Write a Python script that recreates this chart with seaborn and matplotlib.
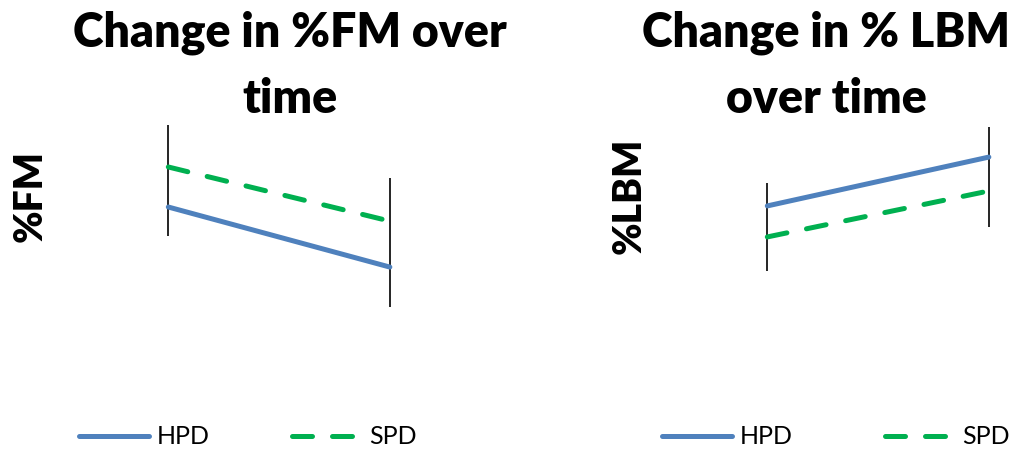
import matplotlib
matplotlib.use("Agg")
import matplotlib.pyplot as plt
import seaborn as sns
import pandas as pd

sns.set_theme(style="white")
plt.rcParams['font.family'] = ['Lato', 'DejaVu Sans']
plt.rcParams['text.color'] = 'black'
plt.rcParams['axes.labelcolor'] = 'black'

# ---- data (arbitrary units, no scale shown) ----
groups = ["HPD", "SPD"]
timepoints = [0, 1]
fm_hpd = [5.59, 2.86]
fm_spd = [7.41, 4.95]
fm_bar_low = [4.27, 1.05]
fm_bar_high = [9.32, 6.91]

lbm_hpd = [5.64, 7.86]
lbm_spd = [4.23, 6.32]
lbm_bar_low = [2.68, 4.68]
lbm_bar_high = [6.68, 9.23]

titles = ["Change in %FM over\ntime", "Change in % LBM\nover time"]
ylabels = ["%FM", "%LBM"]

colors = {"HPD": "#4F81BD", "SPD": "#00B050"}
dashes = {"HPD": "", "SPD": (4, 4)}


def make_df(hpd, spd):
    return pd.DataFrame({
        "time": timepoints * 2,
        "value": list(hpd) + list(spd),
        "group": ["HPD"] * 2 + ["SPD"] * 2,
    })


fig = plt.figure(figsize=(10.18, 4.5), dpi=100)
W, H = 1018, 450

panels = [
    dict(df=make_df(fm_hpd, fm_spd), low=fm_bar_low, high=fm_bar_high,
         left=124, title_x=290, ylab_x=49, leg_x=248, colsp=3.3),
    dict(df=make_df(lbm_hpd, lbm_spd), low=lbm_bar_low, high=lbm_bar_high,
         left=723, title_x=826, ylab_x=648, leg_x=836, colsp=3.7),
]

for i, p in enumerate(panels):
    ax = fig.add_axes([p["left"] / W, (H - 330) / H, 288 / W, 220 / H])
    ax.vlines(timepoints, p["low"], p["high"], color="black", linewidth=1.2, zorder=1)
    sns.lineplot(data=p["df"], x="time", y="value", hue="group", style="group",
                 palette=colors, dashes=dashes, linewidth=3.6, ax=ax,
                 legend=True, zorder=2)
    for ln in ax.get_lines():
        ln.set_dash_capstyle("round")
        ln.set_solid_capstyle("round")
    ax.set_xlim(-0.2, 1.1)
    ax.set_ylim(0, 10)
    ax.set_xticks([])
    ax.set_yticks([])
    ax.set_xlabel("")
    ax.set_ylabel(ylabels[i], fontsize=28, fontweight="heavy")
    ax.yaxis.set_label_coords((p["ylab_x"] - p["left"]) / 288, (330 - 196) / 220)
    sns.despine(ax=ax, left=True, bottom=True)

    fig.text(p["title_x"] / W, 1 - 66 / H, titles[i], ha="center", va="center",
             fontsize=33.5, fontweight="heavy", linespacing=1.6)

    handles, labels = ax.get_legend_handles_labels()
    for h in handles:
        h.set_dash_capstyle("round")
        h.set_solid_capstyle("round")
    ax.legend(handles, labels, loc="center", bbox_to_anchor=(p["leg_x"] / W, 1 - 437 / H),
              bbox_transform=fig.transFigure, ncol=2, frameon=False,
              fontsize=18, handlelength=2.8, handletextpad=0.3, columnspacing=p["colsp"])

fig.savefig("out.png", dpi=100, facecolor="white")
